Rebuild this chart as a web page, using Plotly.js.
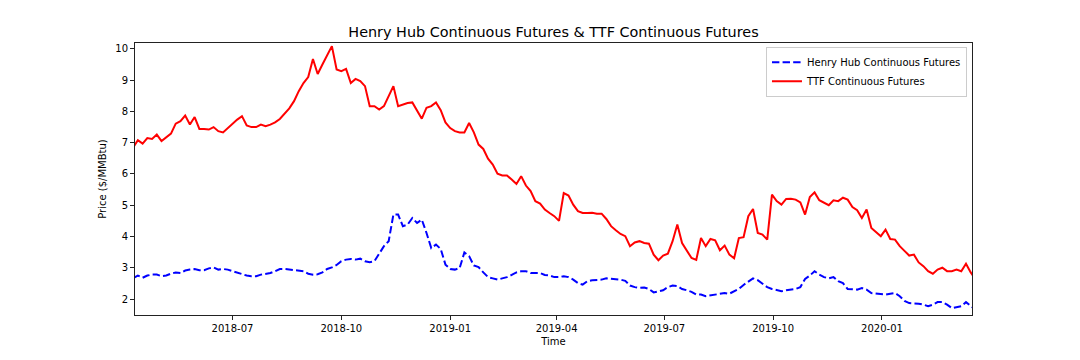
<!DOCTYPE html>
<html>
<head>
<meta charset="utf-8">
<script src="https://cdn.plot.ly/plotly-3.0.1.min.js"></script>
<style>
  html, body { margin: 0; padding: 0; background: #fff; }
  #chart { width: 1080px; height: 360px; }
</style>
</head>
<body>
<div id="chart"></div>
<script>
// Series sampled every 4 days starting 2018-04-08
const startDate = '2018-04-08';
const stepDays = 4;

const henryHub = [
  2.67,2.75,2.68,2.75,2.78,2.78,2.73,2.75,2.81,2.85,
  2.83,2.91,2.94,2.96,2.92,2.92,2.98,3.01,2.94,2.96,
  2.94,2.89,2.83,2.80,2.75,2.73,2.73,2.78,2.80,2.83,
  2.89,2.96,2.96,2.94,2.94,2.91,2.89,2.81,2.78,2.79,
  2.85,2.96,3.01,3.09,3.21,3.26,3.28,3.26,3.29,3.21,
  3.18,3.21,3.47,3.69,3.85,4.70,4.70,4.33,4.38,4.59,
  4.43,4.54,4.11,3.63,3.74,3.60,3.10,2.96,2.94,2.99,
  3.49,3.37,3.07,3.02,2.85,2.70,2.66,2.62,2.66,2.70,
  2.77,2.85,2.89,2.89,2.83,2.83,2.83,2.77,2.75,2.70,
  2.70,2.73,2.70,2.62,2.51,2.46,2.57,2.60,2.60,2.62,
  2.66,2.65,2.64,2.62,2.58,2.43,2.38,2.36,2.37,2.32,
  2.21,2.25,2.28,2.38,2.43,2.41,2.32,2.28,2.23,2.14,
  2.14,2.09,2.11,2.14,2.17,2.19,2.17,2.25,2.32,2.45,
  2.55,2.66,2.60,2.49,2.38,2.32,2.28,2.25,2.28,2.31,
  2.32,2.38,2.64,2.75,2.89,2.78,2.70,2.66,2.70,2.57,
  2.51,2.32,2.32,2.30,2.35,2.30,2.19,2.17,2.17,2.14,
  2.17,2.19,2.09,1.94,1.87,1.87,1.85,1.82,1.77,1.82,
  1.90,1.90,1.82,1.71,1.74,1.77,1.90,1.77,1.66
];

const ttf = [
  6.85,7.08,6.97,7.15,7.12,7.26,7.05,7.18,7.29,7.61,
  7.69,7.87,7.58,7.82,7.44,7.44,7.42,7.50,7.37,7.33,
  7.47,7.58,7.74,7.85,7.55,7.50,7.50,7.58,7.53,7.58,
  7.65,7.76,7.93,8.10,8.33,8.65,8.91,9.10,9.68,9.20,
  9.50,9.82,10.09,9.34,9.29,9.36,8.91,9.04,8.97,8.81,
  8.17,8.17,8.06,8.17,8.49,8.81,8.17,8.22,8.27,8.29,
  8.01,7.77,8.12,8.17,8.29,8.04,7.65,7.47,7.37,7.33,
  7.33,7.63,7.33,6.94,6.80,6.49,6.30,6.01,5.95,5.95,
  5.82,5.68,5.93,5.63,5.45,5.13,5.05,4.86,4.75,4.65,
  4.50,5.39,5.31,5.02,4.81,4.75,4.75,4.76,4.73,4.73,
  4.56,4.33,4.20,4.08,4.01,3.69,3.81,3.85,3.79,3.77,
  3.42,3.24,3.39,3.45,3.85,4.38,3.79,3.53,3.31,3.25,
  3.95,3.69,3.92,3.88,3.56,3.71,3.42,3.30,3.95,3.98,
  4.65,4.88,4.11,4.06,3.90,5.34,5.13,5.02,5.20,5.21,
  5.18,5.09,4.70,5.26,5.41,5.16,5.07,5.00,5.16,5.13,
  5.24,5.18,4.94,4.84,4.59,4.86,4.27,4.15,4.01,4.22,
  3.92,3.90,3.69,3.54,3.39,3.42,3.17,3.05,2.89,2.81,
  2.94,3.00,2.89,2.89,2.94,2.89,3.13,2.85,2.64
];

const xTickVals = ['2018-07-01','2018-10-01','2019-01-01','2019-04-01','2019-07-01','2019-10-01','2020-01-01'];
const xTickText = ['2018-07','2018-10','2019-01','2019-04','2019-07','2019-10','2020-01'];
const yTickVals = [2,3,4,5,6,7,8,9,10];

const t0 = Date.parse(startDate + 'T00:00:00Z');
const dates = henryHub.map((_, i) => new Date(t0 + i * stepDays * 86400000).toISOString().slice(0, 10));

const FONT = 'DejaVu Sans, Liberation Sans, sans-serif';

const traces = [
  {
    x: dates, y: henryHub, type: 'scatter', mode: 'lines',
    name: 'Henry Hub Continuous Futures',
    line: { color: '#0000ff', width: 2, dash: '7.4px,3.2px' }
  },
  {
    x: dates, y: ttf, type: 'scatter', mode: 'lines',
    name: 'TTF Continuous Futures',
    line: { color: '#ff0000', width: 2 }
  }
];

const layout = {
  width: 1080, height: 360,
  paper_bgcolor: '#ffffff', plot_bgcolor: '#ffffff',
  margin: { l: 135, r: 108, t: 43, b: 45, pad: 0 },
  font: { family: FONT, size: 10, color: '#000' },
  showlegend: true,
  title: {
    text: 'Henry Hub Continuous Futures & TTF Continuous Futures',
    font: { family: FONT, size: 14.4, color: '#000' },
    x: 0.5, xref: 'paper', xanchor: 'center',
    y: 1 - 32 / 360, yref: 'container', yanchor: 'middle'
  },
  xaxis: {
    type: 'date',
    range: ['2018-04-09 14:00', '2020-03-17 02:00'],
    tickmode: 'array', tickvals: xTickVals, ticktext: xTickText,
    ticks: 'outside', ticklen: 4, tickwidth: 1, tickcolor: '#222',
    showline: true, linecolor: '#222', linewidth: 1, mirror: true,
    showgrid: false, zeroline: false,
    tickfont: { family: FONT, size: 10, color: '#000' },
    title: { text: 'Time', font: { family: FONT, size: 10, color: '#000' }, standoff: 4 }
  },
  yaxis: {
    range: [1.488, 10.19],
    tickmode: 'array', tickvals: yTickVals,
    ticks: 'outside', ticklen: 4, tickwidth: 1, tickcolor: '#222',
    showline: true, linecolor: '#222', linewidth: 1, mirror: true,
    showgrid: false, zeroline: false,
    tickfont: { family: FONT, size: 10, color: '#000' },
    title: { text: 'Price ($/MMBtu)', font: { family: FONT, size: 10, color: '#000' }, standoff: 6 }
  },
  legend: {
    x: 0.994, xanchor: 'right', y: 0.986, yanchor: 'top',
    bgcolor: 'rgba(255,255,255,0.8)', bordercolor: '#cccccc', borderwidth: 1,
    font: { family: FONT, size: 10, color: '#000' },
    tracegroupgap: 0, itemwidth: 30
  }
};

Plotly.newPlot('chart', traces, layout, { displayModeBar: false, staticPlot: true });
</script>
</body>
</html>
